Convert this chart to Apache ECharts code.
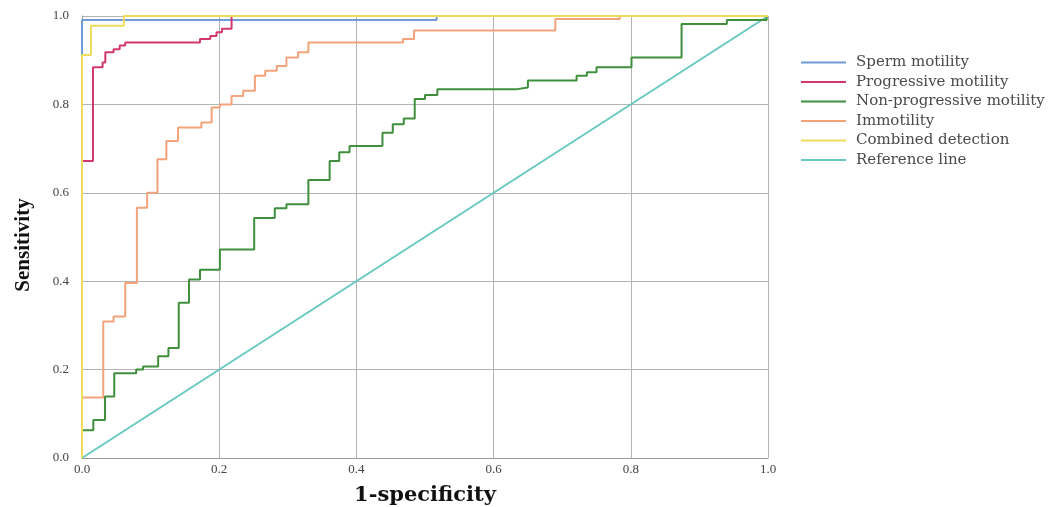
<!DOCTYPE html>
<html>
<head>
<meta charset="utf-8">
<script src="https://cdn.jsdelivr.net/npm/echarts@6/dist/echarts.min.js"></script>
<style>
  html, body { margin: 0; padding: 0; background: #fff; }
  #chart { width: 1058px; height: 507px; }
</style>
</head>
<body>
<div id="chart"></div>
<script>
// ROC curves: each list holds [1-specificity, sensitivity] after each rise.
const seriesNames = ["Sperm motility", "Progressive motility", "Non-progressive motility", "Immotility", "Combined detection", "Reference line"];
const seriesColors = ["#6f9bd6", "#d2386e", "#3f8f3c", "#f3a37a", "#eedc5a", "#68c9c2"];
const axisTicks = ["0.0", "0.2", "0.4", "0.6", "0.8", "1.0"];

const spermMotility = [[0, 0], [0, 0.991], [0.517, 1.0], [1, 1]];
const progressiveMotility = [
    [0, 0], [0, 0.672], [0.016, 0.884], [0.030, 0.895], [0.034, 0.918], [0.046, 0.925],
    [0.055, 0.933], [0.063, 0.940], [0.172, 0.948], [0.187, 0.955], [0.196, 0.963],
    [0.204, 0.971], [0.218, 1.0], [1, 1]
];
const nonProgressiveMotility = [
    [0, 0], [0, 0.063], [0.0165, 0.086], [0.0335, 0.139], [0.047, 0.192], [0.079, 0.200],
    [0.089, 0.207], [0.111, 0.230], [0.126, 0.249], [0.141, 0.351], [0.156, 0.404],
    [0.172, 0.426], [0.201, 0.472], [0.251, 0.543], [0.281, 0.565], [0.298, 0.574],
    [0.330, 0.629], [0.361, 0.672], [0.375, 0.692], [0.390, 0.706], [0.438, 0.736],
    [0.453, 0.755], [0.469, 0.768], [0.485, 0.812], [0.500, 0.821], [0.518, 0.834],
    [0.632, 0.838], [0.650, 0.854], [0.721, 0.865], [0.736, 0.873], [0.750, 0.884],
    [0.801, 0.906], [0.874, 0.982], [0.940, 0.991], [0.998, 1.0], [1, 1]
];
const immotility = [
    [0, 0], [0, 0.137], [0.031, 0.309], [0.046, 0.320], [0.063, 0.396], [0.080, 0.566],
    [0.095, 0.600], [0.110, 0.676], [0.123, 0.717], [0.140, 0.748], [0.174, 0.759],
    [0.189, 0.793], [0.201, 0.800], [0.218, 0.819], [0.235, 0.831], [0.252, 0.865],
    [0.267, 0.876], [0.284, 0.887], [0.298, 0.906], [0.315, 0.918], [0.330, 0.940],
    [0.468, 0.948], [0.484, 0.967], [0.690, 0.993], [0.784, 1.0], [1, 1]
];
const combinedDetection = [[0, 0], [0, 0.912], [0.013, 0.978], [0.061, 1.0], [1, 1]];
const referenceLine = [[0, 0], [1, 1]];

const curveData = [spermMotility, progressiveMotility, nonProgressiveMotility, immotility, combinedDetection, referenceLine];

const serif = "'Liberation Serif', 'DejaVu Serif', serif";
const wideSerif = "'DejaVu Serif', 'Liberation Serif', serif";

const chart = echarts.init(document.getElementById("chart"));
chart.setOption({
    animation: false,
    backgroundColor: "#fff",
    grid: { left: 82, right: 290, top: 16, bottom: 49, outerBoundsMode: "none", containLabel: false },
    legend: {
        orient: "vertical",
        left: 796,
        top: 50,
        icon: "rect",
        itemWidth: 45,
        itemHeight: 2,
        itemGap: 4.5,
        textStyle: { fontFamily: wideSerif, fontSize: 15, color: "#4a4a4a", padding: [0, 0, 0, 5] },
        data: seriesNames
    },
    xAxis: {
        type: "value",
        min: 0,
        max: 1,
        interval: 0.2,
        name: "1-specificity",
        nameLocation: "middle",
        nameGap: 27,
        nameTextStyle: { fontFamily: wideSerif, fontSize: 21, fontWeight: "bold", color: "#111" },
        axisLine: { lineStyle: { color: "#999" } },
        axisTick: { show: false },
        axisLabel: { fontFamily: serif, fontSize: 13, color: "#444", margin: 5, formatter: v => axisTicks[Math.round(v * 5)] },
        splitLine: { lineStyle: { color: "#b4b4b4" } }
    },
    yAxis: {
        type: "value",
        min: 0,
        max: 1,
        interval: 0.2,
        name: "Sensitivity",
        nameLocation: "middle",
        nameGap: 48,
        nameTextStyle: { fontFamily: serif, fontSize: 21, fontWeight: "bold", color: "#111", padding: [0, 16, 0, 0] },
        axisLine: { show: true, lineStyle: { color: "#999" } },
        axisTick: { show: false },
        axisLabel: { fontFamily: serif, fontSize: 13, color: "#444", margin: 13, formatter: v => axisTicks[Math.round(v * 5)] },
        splitLine: { lineStyle: { color: "#b4b4b4" } }
    },
    series: seriesNames.map((name, i) => ({
        name,
        type: "line",
        step: i === 5 ? false : "end",
        data: curveData[i],
        showSymbol: false,
        symbol: "none",
        z: [3, 6, 5, 4, 7, 2][i],
        color: seriesColors[i],
        lineStyle: { width: 2, color: seriesColors[i] }
    }))
});
</script>
</body>
</html>
